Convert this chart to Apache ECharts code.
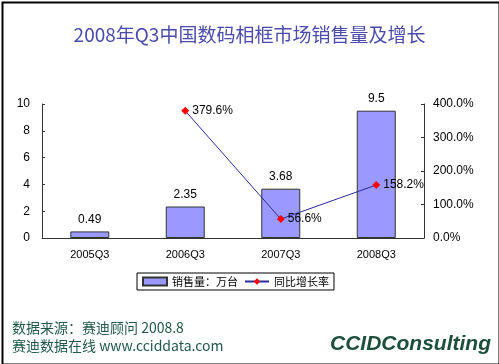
<!DOCTYPE html>
<html><head><meta charset="utf-8">
<script src="https://cdn.jsdelivr.net/npm/echarts@6/dist/echarts.min.js"></script>
<style>html,body{margin:0;padding:0;background:#fff}#c{width:499px;height:364px}</style>
</head><body><div id="c"></div>
<script>
var categories = ['2005Q3','2006Q3','2007Q3','2008Q3'];
var sales = [0.49, 2.35, 3.68, 9.5];
var growth = [null, 379.6, 56.6, 158.2];
var leftTicks = {min:0, max:10, interval:2};
var rightTicks = {min:0, max:400, interval:100};

var chart = echarts.init(document.getElementById('c'), null, {renderer:'canvas'});
var axisFont = {color:'#000', fontSize:12, fontFamily:'Arial, Liberation Sans, sans-serif'};
chart.setOption({
  animation:false,
  backgroundColor:'#fff',
  title:{text:'2008年Q3中国数码相框市场销售量及增长', left:'center', top:20,
    textStyle:{color:'#4b4bab', fontSize:19, fontWeight:'normal', fontFamily:'Noto Sans CJK SC, sans-serif'}},
  grid:{left:42, right:75, top:104, bottom:126},
  legend:{left:137, top:273, orient:'horizontal', padding:[3,5], itemGap:6, itemWidth:24, itemHeight:8,
    borderColor:'#000', borderWidth:1,
    textStyle:{color:'#000', fontSize:11, fontFamily:'Noto Sans CJK SC, sans-serif'},
    data:[{name:'销售量：万台', icon:'rect'},{name:'同比增长率'}]},
  xAxis:{type:'category', data:categories, boundaryGap:true,
    axisLine:{lineStyle:{color:'#333'}},
    axisTick:{inside:true, length:3, alignWithLabel:false, lineStyle:{color:'#333'}},
    axisLabel:{color:'#000', fontSize:11, margin:11, fontFamily:'Arial, Liberation Sans, sans-serif'}},
  yAxis:[
    {type:'value', min:leftTicks.min, max:leftTicks.max, interval:leftTicks.interval,
     axisLine:{show:true, lineStyle:{color:'#333'}}, axisTick:{show:true, inside:true, length:3, lineStyle:{color:'#333'}},
     splitLine:{show:false}, axisLabel:Object.assign({margin:12}, axisFont)},
    {type:'value', min:rightTicks.min, max:rightTicks.max, interval:rightTicks.interval, position:'right',
     axisLine:{show:true, lineStyle:{color:'#333'}}, axisTick:{show:true, inside:true, length:3, lineStyle:{color:'#333'}},
     splitLine:{show:false}, axisLabel:Object.assign({margin:9, formatter:function(v){return v.toFixed(1)+'%';}}, axisFont)}
  ],
  series:[
    {name:'销售量：万台', type:'bar', data:sales, barWidth:39, yAxisIndex:0,
     itemStyle:{color:'#9999ff', borderColor:'#333', borderWidth:1},
     label:{show:true, position:'top', distance:6, color:'#000', fontSize:12, fontFamily:'Arial, Liberation Sans, sans-serif'}},
    {name:'同比增长率', type:'line', data:growth, yAxisIndex:1, connectNulls:false,
     symbol:'diamond', symbolSize:8, lineStyle:{color:'#2a2a9a', width:1},
     itemStyle:{color:'#ff0000'},
     label:{show:true, position:'right', distance:3, color:'#000', fontSize:12, fontFamily:'Arial, Liberation Sans, sans-serif',
       formatter:function(p){return p.value.toFixed(1)+'%';}}}
  ],
  graphic:[
    {type:'rect', left:0, top:0, shape:{x:1, y:1, width:497, height:362}, style:{fill:'none', stroke:'#000', lineWidth:2}, z:100},
    {type:'text', left:12, top:321, style:{text:'数据来源：赛迪顾问 2008.8', fill:'#1f5848', font:'14px "Noto Sans CJK SC", sans-serif'}},
    {type:'text', left:12, top:339, style:{text:'赛迪数据在线 www.cciddata.com', fill:'#1f5848', font:'14px "Noto Sans CJK SC", sans-serif'}},
    {type:'text', left:330, top:334, style:{text:'CCIDConsulting', fill:'#1d4f3c', font:'italic bold 21px "Liberation Sans", Arial, sans-serif'}}
  ]
});
</script></body></html>
